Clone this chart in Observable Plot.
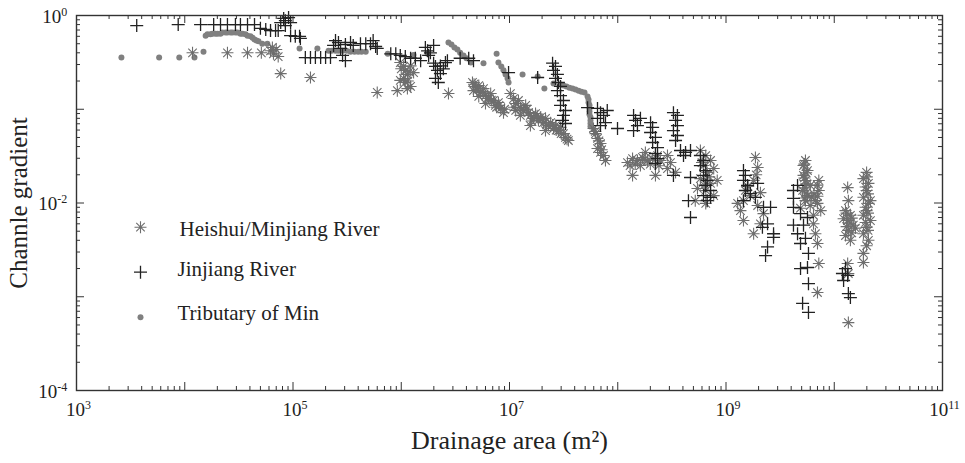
<!DOCTYPE html>
<html><head><meta charset="utf-8">
<script src="https://cdn.jsdelivr.net/npm/d3@7"></script>
<script src="https://cdn.jsdelivr.net/npm/@observablehq/plot@0.6"></script>
<style>body{margin:0;background:#fff} #chart{width:965px;height:463px}</style>
</head><body><div id="chart"></div>
<script>
// [drainage area (m^2), channel gradient]
const heishui = [
[1.18e4,0.40],[2.48e4,0.40],[3.8e4,0.40],[5.1e4,0.40],
[6.2e4,0.42],[6.6e4,0.39],[7.0e4,0.434],[7.3e4,0.365],[6.45e4,0.456],
[7.7e4,0.24],[1.45e5,0.218],[6.0e5,0.151],[9.2e5,0.158],
[9.8e5,0.315],[1.05e6,0.286],[1.09e6,0.26],[1.14e6,0.235],[1.05e6,0.213],[1.09e6,0.193],[1.22e6,0.175],[1.14e6,0.166],[1.22e6,0.29],[1.3e6,0.246],[9.8e5,0.203],[1.0e6,0.27],[1.15e6,0.2],[1.18e6,0.25],
[2.73e6,0.147],
[4.55e6,0.193],[4.85e6,0.175],[4.65e6,0.158],[5.2e6,0.179],[5.4e6,0.151],[5.75e6,0.166],[6.0e6,0.14],[6.4e6,0.13],[6.7e6,0.147],[7.1e6,0.124],[7.4e6,0.11],[7.9e6,0.118],[8.3e6,0.102],[8.8e6,0.092],[5.2e6,0.137],[6.0e6,0.115],
[4.7e6,0.185],[5.0e6,0.16],[5.6e6,0.155],[6.2e6,0.13],[6.8e6,0.125],[7.6e6,0.105],[8.0e6,0.11],[9.0e6,0.1],
[1.02e7,0.147],[1.09e7,0.13],[1.14e7,0.115],[1.21e7,0.124],[1.26e7,0.104],[1.35e7,0.097],[1.41e7,0.11],[1.5e7,0.092],[1.56e7,0.086],[1.67e7,0.08],[1.74e7,0.09],[1.85e7,0.076],[1.93e7,0.082],[2.06e7,0.072],[2.15e7,0.08],[2.29e7,0.067],[2.4e7,0.072],[2.55e7,0.0623],[2.66e7,0.067],[2.83e7,0.0593],[2.96e7,0.064],[3.15e7,0.055],[3.29e7,0.05],[3.5e7,0.0464],[1.56e7,0.067],[1.26e7,0.086],[2.15e7,0.0593],[1.14e7,0.097],
[1.1e7,0.105],[1.3e7,0.1],[1.45e7,0.1],[1.6e7,0.075],[1.8e7,0.085],[2.0e7,0.078],[2.2e7,0.068],[2.5e7,0.068],[2.7e7,0.06],[3.0e7,0.055],[3.4e7,0.048],
[5.97e7,0.0623],[6.24e7,0.055],[6.5e7,0.0488],[6.93e7,0.0431],[6.5e7,0.0381],[6.93e7,0.0346],[7.4e7,0.0321],[7.7e7,0.0284],[6.2e7,0.058],[6.7e7,0.046],[7.1e7,0.037],
[1.23e8,0.027],[1.37e8,0.0298],[1.52e8,0.0284],[1.69e8,0.0306],[1.88e8,0.0284],[2.1e8,0.0298],[2.33e8,0.0321],[2.48e8,0.0284],[1.37e8,0.0197],[2.23e8,0.0197],[1.8e8,0.0346],[1.62e8,0.0251],
[1.3e8,0.025],[1.45e8,0.026],[2.0e8,0.026],[2.4e8,0.025],[1.75e8,0.029],
[2.88e8,0.0321],[3.07e8,0.027],[2.88e8,0.0233],[3.42e8,0.0212],
[5.8e8,0.0363],[6.5e8,0.0321],[7.2e8,0.0284],[6.2e8,0.0251],[7.7e8,0.0233],[6.7e8,0.0212],[5.8e8,0.0182],[7.2e8,0.0162],[6.5e8,0.0136],[7.7e8,0.012],[5.45e8,0.0143],[5.2e8,0.0106],[6.5e8,0.0099],[8.3e8,0.0174],[6.0e8,0.027],[7.0e8,0.019],[6.3e8,0.0155],
[1.87e9,0.0306],[1.96e9,0.0239],[1.8e9,0.0174],[1.45e9,0.0106],[1.28e9,0.0099],[1.45e9,0.0065],[1.8e9,0.0047],[2.08e9,0.006],[1.51e9,0.0136],[1.68e9,0.012],[1.96e9,0.0094],[2.08e9,0.0129],[2.22e9,0.0077],[1.36e9,0.0083],[1.6e9,0.015],[1.9e9,0.02],
[5.42e9,0.0284],[5.2e9,0.0251],[5.66e9,0.0222],[5.2e9,0.0197],[5.42e9,0.0174],[6.0e9,0.0154],[5.1e9,0.0136],[5.66e9,0.012],[5.42e9,0.0106],[6.0e9,0.0094],[4.88e9,0.0088],[6.7e9,0.0106],[7.2e9,0.0174],[7.2e9,0.0136],[7.0e9,0.0099],[6.43e9,0.006],[6.7e9,0.0047],[7.0e9,0.0037],[7.2e9,0.00226],[7.0e9,0.00111],[7.5e9,0.0083],[6.43e9,0.0074],
[5.3e9,0.026],[5.5e9,0.021],[5.3e9,0.0185],[5.6e9,0.016],[5.3e9,0.0145],[5.5e9,0.0128],[5.3e9,0.0113],[6.2e9,0.0115],[6.5e9,0.0125],[7.0e9,0.0155],[7.0e9,0.0118],
[1.33e10,0.0146],[1.35e10,0.0106],[1.27e10,0.0083],[1.41e10,0.0074],[1.33e10,0.0065],[1.5e10,0.0058],[1.35e10,0.0051],[1.27e10,0.0045],[1.41e10,0.004],[1.57e10,0.0054],[1.33e10,0.00226],[1.35e10,0.00177],[1.35e10,0.00053],[1.22e10,0.0068],
[1.3e10,0.0078],[1.45e10,0.0069],[1.4e10,0.0061],[1.3e10,0.0056],[1.45e10,0.0048],
[1.99e10,0.0212],[1.86e10,0.0182],[2.07e10,0.0162],[1.99e10,0.0136],[1.86e10,0.0115],[2.07e10,0.0099],[1.99e10,0.0083],[1.86e10,0.0074],[2.16e10,0.0065],[1.99e10,0.0055],[1.86e10,0.0047],[2.07e10,0.004],[1.86e10,0.0029],[1.86e10,0.00232],[2.16e10,0.0106],[1.99e10,0.0035],
[2.0e10,0.019],[1.95e10,0.0148],[2.05e10,0.0125],[1.95e10,0.009],[2.05e10,0.0078],[1.95e10,0.0062],[2.05e10,0.0051]
];
const jinjiang = [
[3.6e3,0.78],[8.7e3,0.80],[1.4e4,0.80],[1.85e4,0.80],[2.14e4,0.80],[2.48e4,0.80],[2.94e4,0.80],[3.27e4,0.80],[3.8e4,0.80],[4.41e4,0.80],
[5.0e4,0.73],[5.6e4,0.71],[6.2e4,0.69],[6.9e4,0.69],[7.3e4,0.69],[7.7e4,0.84],[8.2e4,0.93],[8.5e4,0.88],[8.5e4,0.78],[9.1e4,0.95],[9.5e4,0.84],[9.5e4,0.61],[1.05e5,0.60],[1.15e5,0.60],[1.17e5,0.57],
[1.3e5,0.356],[1.45e5,0.356],[1.61e5,0.356],[1.8e5,0.356],[2.0e5,0.356],[2.22e5,0.356],
[2.37e5,0.48],[2.47e5,0.54],[2.63e5,0.515],[2.75e5,0.445],[2.87e5,0.375],[3.05e5,0.33],[3.05e5,0.49],[3.4e5,0.515],[3.6e5,0.48],
[4.2e5,0.50],[4.7e5,0.50],[5.2e5,0.50],[5.5e5,0.54],[5.8e5,0.467],[6.0e5,0.445],
[8.0e5,0.39],[8.9e5,0.39],[9.8e5,0.375],[1.09e6,0.365],[1.22e6,0.35],[1.35e6,0.35],[1.51e6,0.33],
[1.67e6,0.456],[1.75e6,0.42],[1.86e6,0.40],[1.79e6,0.375],[1.99e6,0.48],
[1.99e6,0.31],[2.07e6,0.286],[2.16e6,0.26],[2.3e6,0.29],[2.3e6,0.24],[2.45e6,0.27],[2.56e6,0.315],[2.07e6,0.213],[2.2e6,0.193],[2.67e6,0.33],
[3.5e6,0.35],[4.2e6,0.35],[4.65e6,0.33],[9.8e6,0.246],[1.82e7,0.218],
[2.5e7,0.31],[2.66e7,0.286],[2.55e7,0.26],[2.77e7,0.235],[2.66e7,0.213],[2.83e7,0.193],[2.96e7,0.175],[2.77e7,0.158],[2.96e7,0.14],[3.15e7,0.124],[2.96e7,0.11],[3.29e7,0.097],[3.15e7,0.086],[3.09e7,0.076],[3.29e7,0.0705],
[5.26e7,0.104],
[6.5e7,0.102],[6.93e7,0.092],[7.4e7,0.086],[6.5e7,0.08],[7.7e7,0.072],[6.93e7,0.067],[8.0e7,0.097],
[9.95e7,0.0623],
[1.4e8,0.086],[1.46e8,0.076],[1.52e8,0.067],[1.4e8,0.0593],[1.62e8,0.08],
[2.01e8,0.072],[2.1e8,0.064],[2.01e8,0.0565],[2.23e8,0.05],[2.1e8,0.0442],[2.33e8,0.039],[2.23e8,0.0337],[2.33e8,0.0298],[2.23e8,0.0264],
[3.27e8,0.092],[3.56e8,0.086],[3.42e8,0.076],[3.56e8,0.067],[3.27e8,0.0593],[3.56e8,0.0525],[3.42e8,0.0464],
[3.8e8,0.0363],[4.23e8,0.0346],[4.7e8,0.0363],[4.05e8,0.0321],
[3.27e8,0.0197],[4.7e8,0.0187],[4.5e8,0.0106],[4.7e8,0.007],
[5.8e8,0.0321],[6.2e8,0.0284],[5.8e8,0.0251],[6.5e8,0.0222],[6.2e8,0.0197],[6.7e8,0.0174],[6.5e8,0.0154],[7.2e8,0.0136],[6.2e8,0.012],[6.7e8,0.0106],[7.2e8,0.0115],
[1.45e9,0.0222],[1.51e9,0.0197],[1.45e9,0.0174],[1.58e9,0.0154],[1.51e9,0.0136],[1.68e9,0.0126],[1.87e9,0.0115],[1.45e9,0.0106],[1.96e9,0.0162],
[2.22e9,0.009],[2.58e9,0.009],[2.42e9,0.006],[2.75e9,0.0043],[2.42e9,0.0034],[2.32e9,0.00275],[2.17e9,0.0055],[2.75e9,0.0047],
[4.2e9,0.0136],[4.2e9,0.0112],[4.2e9,0.009],[4.58e9,0.0154],[4.88e9,0.0077],[5.66e9,0.007],[4.58e9,0.0047],[4.88e9,0.0037],[5.78e9,0.0029],[4.88e9,0.002],[5.66e9,0.00205],[5.78e9,0.00138],[5.1e9,0.00085],[5.78e9,0.00068],[4.2e9,0.0058],[5.2e9,0.0058],[5.42e9,0.0042],
[1.19e10,0.00177],[1.22e10,0.00149],[1.35e10,0.00108],[1.41e10,0.00098],[1.33e10,0.00169],[1.27e10,0.002]
];
const tributary = [
[2.6e3,0.356],[5.8e3,0.356],[8.9e3,0.356],[1.23e4,0.356],[1.49e4,0.41],
[1.56e4,0.61],[1.62e4,0.63],[1.73e4,0.63],[1.8e4,0.64],[1.92e4,0.64],[2.01e4,0.64],[2.14e4,0.64],[2.23e4,0.66],[2.38e4,0.66],[2.48e4,0.66],[2.65e4,0.66],[2.76e4,0.66],[2.94e4,0.66],[3.07e4,0.66],[3.27e4,0.64],[3.42e4,0.64],[3.64e4,0.63],[3.8e4,0.61],[4.05e4,0.60],[4.23e4,0.58],[4.41e4,0.555],[4.6e4,0.54],[4.8e4,0.53],[5.2e4,0.50],[5.8e4,0.50],
[1.15e5,0.445],[1.68e5,0.445],[2.13e5,0.42],[2.27e5,0.42],[2.47e5,0.42],[2.63e5,0.42],[2.87e5,0.42],[3.12e5,0.42],[3.4e5,0.41],[3.7e5,0.41],[4.0e5,0.41],[4.3e5,0.41],[4.7e5,0.41],
[7.5e5,0.39],[1.3e6,0.38],[1.75e6,0.39],
[2.73e6,0.515],[2.91e6,0.49],[3.1e6,0.456],[3.3e6,0.434],[3.5e6,0.40],[3.76e6,0.375],[4.0e6,0.35],[4.4e6,0.315],
[5.75e6,0.31],[7.6e6,0.39],[7.9e6,0.315],[8.4e6,0.286],[8.8e6,0.26],[9.2e6,0.235],[9.6e6,0.213],[9.8e6,0.193],
[1.32e7,0.235],[1.82e7,0.223],[2.1e7,0.166],
[2.55e7,0.188],[2.96e7,0.184],[3.15e7,0.179],[3.36e7,0.175],[3.58e7,0.17],[3.82e7,0.166],[4.07e7,0.162],[4.35e7,0.158],[4.62e7,0.154],[4.93e7,0.151],[5.26e7,0.137],[5.37e7,0.127],[5.37e7,0.118],[5.48e7,0.11],[5.48e7,0.102],[5.48e7,0.0946],[5.48e7,0.088],[5.6e7,0.082],[5.6e7,0.076],[5.6e7,0.0705],[5.6e7,0.0655]
];
const legendNames = ["Heishui/Minjiang River", "Jinjiang River", "Tributary of Min"];
const xLabelTicks = [1e3, 1e5, 1e7, 1e9, 1e11];
const yLabelTicks = [1e-4, 1e-2, 1];
const xDecades = [1e3, 1e4, 1e5, 1e6, 1e7, 1e8, 1e9, 1e10, 1e11];
const yDecades = [1e-4, 1e-3, 1e-2, 1e-1, 1];
const xTitle = "Drainage area (m²)";
const yTitle = "Channle gradient";

const W = 965, H = 463, mL = 76, mR = 23, mT = 15, mB = 73;
const innerW = W - mL - mR, innerH = H - mT - mB;
const minorOf = ds => ds.slice(0, -1).flatMap(d => [2,3,4,5,6,7,8,9].map(k => k * d));
const xMinor = minorOf(xDecades), yMinor = minorOf(yDecades);
const axisColor = "#333";
const colHei = "#6e6e6e", colJin = "#222", colTri = "#808080";
const FONT = "'Liberation Serif', 'Times New Roman', serif";

const asterisk8 = {draw(ctx, size) {
  const r = Math.sqrt(size / Math.PI), d = r * Math.SQRT1_2;
  ctx.moveTo(-r, 0); ctx.lineTo(r, 0); ctx.moveTo(0, -r); ctx.lineTo(0, r);
  ctx.moveTo(-d, -d); ctx.lineTo(d, d); ctx.moveTo(-d, d); ctx.lineTo(d, -d);
}};
const plus = {draw(ctx, size) {
  const r = Math.sqrt(size / Math.PI);
  ctx.moveTo(-r, 0); ctx.lineTo(r, 0); ctx.moveTo(0, -r); ctx.lineTo(0, r);
}};
const expLabel = d => "10^" + Math.round(Math.log10(d));

const heiStyle = {symbol: asterisk8, r: 6, stroke: colHei, fill: "none", strokeWidth: 1.1};
const jinStyle = {symbol: plus, r: 6.5, stroke: colJin, fill: "none", strokeWidth: 1.3};
const triStyle = {r: 3, fill: colTri, stroke: "none"};

const chart = Plot.plot({
  width: W, height: H,
  marginLeft: mL, marginRight: mR, marginTop: mT, marginBottom: mB,
  x: {type: "log", domain: [1e3, 1e11], axis: null},
  y: {type: "log", domain: [1e-4, 1], axis: null},
  style: {fontFamily: FONT, color: "#222", background: "#fff", overflow: "visible"},
  marks: [
    Plot.dot(tributary, {x: d => d[0], y: d => d[1], ...triStyle}),
    Plot.dot(heishui, {x: d => d[0], y: d => d[1], ...heiStyle}),
    Plot.dot(jinjiang, {x: d => d[0], y: d => d[1], ...jinStyle}),
    // inward ticks on all four sides
    Plot.tickX(xMinor, {x: d => d, insetTop: innerH - 4, stroke: axisColor}),
    Plot.tickX(xMinor, {x: d => d, insetBottom: innerH - 4, stroke: axisColor}),
    Plot.tickX(xDecades, {x: d => d, insetTop: innerH - 8, stroke: axisColor}),
    Plot.tickX(xDecades, {x: d => d, insetBottom: innerH - 8, stroke: axisColor}),
    Plot.tickY(yMinor, {y: d => d, insetRight: innerW - 4, stroke: axisColor}),
    Plot.tickY(yMinor, {y: d => d, insetLeft: innerW - 4, stroke: axisColor}),
    Plot.tickY(yDecades, {y: d => d, insetRight: innerW - 8, stroke: axisColor}),
    Plot.tickY(yDecades, {y: d => d, insetLeft: innerW - 8, stroke: axisColor}),
    Plot.frame({stroke: axisColor, strokeWidth: 1.4}),
    // tick labels
    Plot.text(xLabelTicks, {x: d => d, frameAnchor: "bottom", text: expLabel, textAnchor: "middle", lineAnchor: "top", dy: 11.5, dx: 2, fontSize: 19}),
    Plot.text(yLabelTicks, {y: d => d, frameAnchor: "left", text: expLabel, textAnchor: "end", lineAnchor: "middle", dx: -9.3, dy: 1, fontSize: 19}),
    // axis titles
    Plot.text([xTitle], {frameAnchor: "bottom", text: d => d, textAnchor: "middle", lineAnchor: "middle", dy: 50, fontSize: 26}),
    Plot.text([yTitle], {frameAnchor: "left", text: d => d, textAnchor: "middle", lineAnchor: "middle", rotate: -90, dx: -58, fontSize: 25}),
    // legend
    Plot.dot([0], {frameAnchor: "top-left", dx: 64, dy: 211.7, ...heiStyle}),
    Plot.dot([0], {frameAnchor: "top-left", dx: 64, dy: 256.7, ...jinStyle}),
    Plot.dot([0], {frameAnchor: "top-left", dx: 64, dy: 301.7, ...triStyle}),
    Plot.text([legendNames[0]], {frameAnchor: "top-left", text: d => d, textAnchor: "start", lineAnchor: "middle", dx: 103, dy: 214, fontSize: 21}),
    Plot.text([legendNames[1]], {frameAnchor: "top-left", text: d => d, textAnchor: "start", lineAnchor: "middle", dx: 101, dy: 253.5, fontSize: 21}),
    Plot.text([legendNames[2]], {frameAnchor: "top-left", text: d => d, textAnchor: "start", lineAnchor: "middle", dx: 101, dy: 297.5, fontSize: 21})
  ]
});

// turn "10^e" into 10 with a raised exponent
d3.select(chart).selectAll("text").each(function() {
  const m = /^10\^(-?\d+)$/.exec(this.textContent);
  if (!m) return;
  this.textContent = "10";
  const ts = document.createElementNS("http://www.w3.org/2000/svg", "tspan");
  ts.setAttribute("dy", "-7");
  ts.setAttribute("font-size", "12");
  ts.textContent = m[1];
  this.appendChild(ts);
});
document.getElementById("chart").appendChild(chart);
</script>
</body></html>
